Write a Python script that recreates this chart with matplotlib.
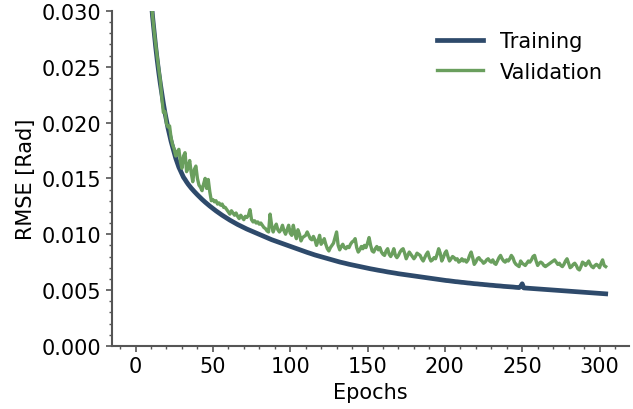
import matplotlib as mpl
import matplotlib.pyplot as plt
import numpy as np

mpl.rcParams['font.family'] = 'DejaVu Sans'
mpl.rcParams['font.size'] = 15

# RMSE per epoch
training = [
    0.200, 0.115, 0.082, 0.065, 0.055, 0.048, 0.043, 0.0390, 0.0358, 0.0332,
    0.0311, 0.0295, 0.0281, 0.0268, 0.0256, 0.0245, 0.0235, 0.0226, 0.0217, 0.0209,
    0.0202, 0.0195, 0.0189, 0.0183, 0.0178, 0.0173, 0.0168, 0.0164, 0.0160, 0.0157,
    0.0154, 0.0151, 0.01490, 0.01468, 0.01448, 0.01430, 0.01413, 0.01397, 0.01382, 0.01367,
    0.01353, 0.01339, 0.01325, 0.01312, 0.01299, 0.01287, 0.01275, 0.01263, 0.01252, 0.01241,
    0.01230, 0.01219, 0.01209, 0.01199, 0.01189, 0.01179, 0.01170, 0.01161, 0.01152, 0.01143,
    0.01134, 0.01126, 0.01118, 0.01110, 0.01102, 0.01094, 0.01087, 0.01080, 0.01073, 0.01066,
    0.01059, 0.01052, 0.01046, 0.01040, 0.01034, 0.01028, 0.01022, 0.01016, 0.01010, 0.01004,
    0.00998, 0.00992, 0.00986, 0.00980, 0.00974, 0.00968, 0.00962, 0.00957, 0.00951, 0.00946,
    0.00941, 0.00935, 0.00930, 0.00925, 0.00920, 0.00915, 0.00910, 0.00905, 0.00900, 0.00895,
    0.00890, 0.00885, 0.00880, 0.00876, 0.00871, 0.00867, 0.00862, 0.00857, 0.00852, 0.00847,
    0.00842, 0.00837, 0.00833, 0.00828, 0.00823, 0.00819, 0.00814, 0.00810, 0.00806, 0.00801,
    0.00797, 0.00793, 0.00789, 0.00785, 0.00781, 0.00777, 0.00773, 0.00769, 0.00765, 0.00762,
    0.00758, 0.00755, 0.00751, 0.00748, 0.00744, 0.00741, 0.00738, 0.00734, 0.00731, 0.00728,
    0.00725, 0.00722, 0.00719, 0.00716, 0.00713, 0.00710, 0.00707, 0.00704, 0.00701, 0.00698,
    0.00696, 0.00693, 0.00690, 0.00688, 0.00685, 0.00682, 0.00680, 0.00677, 0.00675, 0.00672,
    0.00670, 0.00667, 0.00665, 0.00662, 0.00660, 0.00658, 0.00655, 0.00653, 0.00651, 0.00648,
    0.00646, 0.00644, 0.00642, 0.00640, 0.00637, 0.00635, 0.00633, 0.00631, 0.00629, 0.00627,
    0.00625, 0.00623, 0.00621, 0.00619, 0.00617, 0.00615, 0.00613, 0.00611, 0.00609, 0.00607,
    0.00605, 0.00603, 0.00601, 0.00600, 0.00598, 0.00596, 0.00594, 0.00592, 0.00591, 0.00589,
    0.00587, 0.00585, 0.00584, 0.00582, 0.00580, 0.00579, 0.00577, 0.00575, 0.00574, 0.00572,
    0.00571, 0.00569, 0.00568, 0.00566, 0.00565, 0.00563, 0.00562, 0.00560, 0.00559, 0.00557,
    0.00556, 0.00555, 0.00553, 0.00552, 0.00551, 0.00549, 0.00548, 0.00547, 0.00545, 0.00544,
    0.00543, 0.00542, 0.00540, 0.00539, 0.00538, 0.00537, 0.00536, 0.00534, 0.00533, 0.00532,
    0.00531, 0.00530, 0.00529, 0.00528, 0.00527, 0.00525, 0.00524, 0.00523, 0.00522, 0.00532,
    0.00556, 0.00519, 0.00518, 0.00517, 0.00516, 0.00515, 0.00514, 0.00513, 0.00512, 0.00511,
    0.00510, 0.00509, 0.00508, 0.00507, 0.00506, 0.00505, 0.00504, 0.00503, 0.00502, 0.00501,
    0.00500, 0.00499, 0.00498, 0.00497, 0.00496, 0.00495, 0.00494, 0.00493, 0.00492, 0.00491,
    0.00490, 0.00489, 0.00488, 0.00487, 0.00486, 0.00485, 0.00484, 0.00483, 0.00482, 0.00481,
    0.00480, 0.00479, 0.00478, 0.00477, 0.00476, 0.00475, 0.00474, 0.00473, 0.00472, 0.00471,
    0.00470, 0.00469, 0.00468, 0.00467, 0.00466,
]

validation = [
    0.150, 0.095, 0.072, 0.060, 0.052, 0.046, 0.041, 0.0375, 0.0348, 0.0326,
    0.0310, 0.0296, 0.0282, 0.0270, 0.0259, 0.0248, 0.0238, 0.0222, 0.0209, 0.0210,
    0.0199, 0.0196, 0.0197, 0.0186, 0.0180, 0.0176, 0.0170, 0.0174, 0.0176, 0.0165,
    0.0159, 0.0170, 0.0173, 0.0156, 0.0160, 0.0166, 0.0155, 0.0147, 0.0158, 0.0161,
    0.0150, 0.0144, 0.0142, 0.0139, 0.0145, 0.0150, 0.0141, 0.0149, 0.0138, 0.0130,
    0.0131, 0.0129, 0.0130, 0.0127, 0.0128, 0.0126, 0.0127, 0.0124, 0.0124, 0.0122,
    0.0120, 0.0118, 0.0121, 0.0119, 0.0117, 0.0119, 0.0116, 0.0114, 0.0117, 0.0115,
    0.0113, 0.0116, 0.0115, 0.0117, 0.0122, 0.0113, 0.0111, 0.0112, 0.0110, 0.0111,
    0.0109, 0.0110, 0.0108, 0.0106, 0.0105, 0.0103, 0.0102, 0.0118, 0.0108, 0.0102,
    0.0106, 0.0109, 0.0104, 0.0102, 0.0104, 0.0108, 0.0103, 0.0100, 0.0104, 0.0108,
    0.0101, 0.0099, 0.0108, 0.0101, 0.0096, 0.0104, 0.0100, 0.0094, 0.0097, 0.0098,
    0.0099, 0.0102, 0.0099, 0.0096, 0.0095, 0.0098, 0.0095, 0.0090, 0.0094, 0.0099,
    0.0091, 0.0093, 0.0096, 0.0091, 0.0087, 0.0085, 0.0088, 0.0090, 0.0092, 0.0097,
    0.0102, 0.0090, 0.0086, 0.0089, 0.0091, 0.0088, 0.0087, 0.0089, 0.0088, 0.0091,
    0.0093, 0.0094, 0.0096, 0.0088, 0.0084, 0.0086, 0.0089, 0.0087, 0.0090, 0.0088,
    0.0092, 0.0097, 0.0090, 0.0085, 0.0084, 0.0087, 0.0089, 0.0086, 0.0088, 0.0084,
    0.0082, 0.0081, 0.0085, 0.0087, 0.0082, 0.0080, 0.0083, 0.0087, 0.0081, 0.0079,
    0.0081, 0.0084, 0.0086, 0.0087, 0.0083, 0.0078, 0.0081, 0.0084, 0.0082, 0.0080,
    0.0078, 0.0080, 0.0083, 0.0082, 0.0081, 0.0078, 0.0076, 0.0079, 0.0082, 0.0084,
    0.0079, 0.0076, 0.0077, 0.0079, 0.0078, 0.0082, 0.0087, 0.0083, 0.0076, 0.0079,
    0.0083, 0.0085, 0.0080, 0.0076, 0.0078, 0.0080, 0.0079, 0.0077, 0.0078, 0.0075,
    0.0076, 0.0078, 0.0076, 0.0077, 0.0075, 0.0077, 0.0081, 0.0084, 0.0079, 0.0073,
    0.0075, 0.0078, 0.0079, 0.0077, 0.0076, 0.0074, 0.0075, 0.0077, 0.0078, 0.0076,
    0.0075, 0.0077, 0.0074, 0.0073, 0.0076, 0.0079, 0.0081, 0.0078, 0.0076, 0.0075,
    0.0077, 0.0076, 0.0078, 0.0081, 0.0079, 0.0075, 0.0073, 0.0072, 0.0071, 0.0076,
    0.0074, 0.0073, 0.0072, 0.0074, 0.0076, 0.0075, 0.0077, 0.0080, 0.0081, 0.0076,
    0.0072, 0.0074, 0.0075, 0.0074, 0.0072, 0.0071, 0.0072, 0.0073, 0.0074, 0.0075,
    0.0076, 0.0077, 0.0075, 0.0073, 0.0074, 0.0072, 0.0071, 0.0073, 0.0076, 0.0078,
    0.0074, 0.0070, 0.0071, 0.0073, 0.0074, 0.0072, 0.0069, 0.0068, 0.0071, 0.0075,
    0.0074, 0.0072, 0.0074, 0.0076, 0.0073, 0.0071, 0.0070, 0.0072, 0.0073, 0.0072,
    0.0070, 0.0074, 0.0077, 0.0072, 0.0071,
]

epochs = np.arange(len(training))

train_color = '#2E4A6B'
val_color = '#6A9F5E'
spine_color = '#555555'

fig = plt.figure(figsize=(6.33, 4.10), dpi=100)
ax = fig.add_axes([0.177, 0.154, 0.817, 0.817])

ax.plot(epochs, training, color=train_color, linewidth=3.4, label='Training', zorder=2)
ax.plot(epochs, validation, color=val_color, linewidth=2.4, label='Validation', zorder=3)

ax.set_ylim(0, 0.03)
ax.set_xlabel('Epochs')
ax.set_ylabel('RMSE [Rad]')

ax.spines['top'].set_visible(False)
ax.spines['right'].set_visible(False)
for s in ['left', 'bottom']:
    ax.spines[s].set_color(spine_color)
    ax.spines[s].set_linewidth(1.5)

ax.xaxis.set_major_locator(plt.MultipleLocator(50))
ax.xaxis.set_minor_locator(plt.MultipleLocator(10))
ax.yaxis.set_major_locator(plt.MultipleLocator(0.005))
ax.yaxis.set_minor_locator(plt.MultipleLocator(0.001))
ax.yaxis.set_major_formatter(mpl.ticker.FormatStrFormatter('%.3f'))
ax.tick_params(which='major', length=4, width=1.2, color=spine_color)
ax.tick_params(which='minor', length=2.5, width=1.0, color=spine_color)

ax.legend(loc='upper right', frameon=False, handlelength=2.2,
          bbox_to_anchor=(0.985, 0.995))

plt.savefig('out.png', dpi=100)
